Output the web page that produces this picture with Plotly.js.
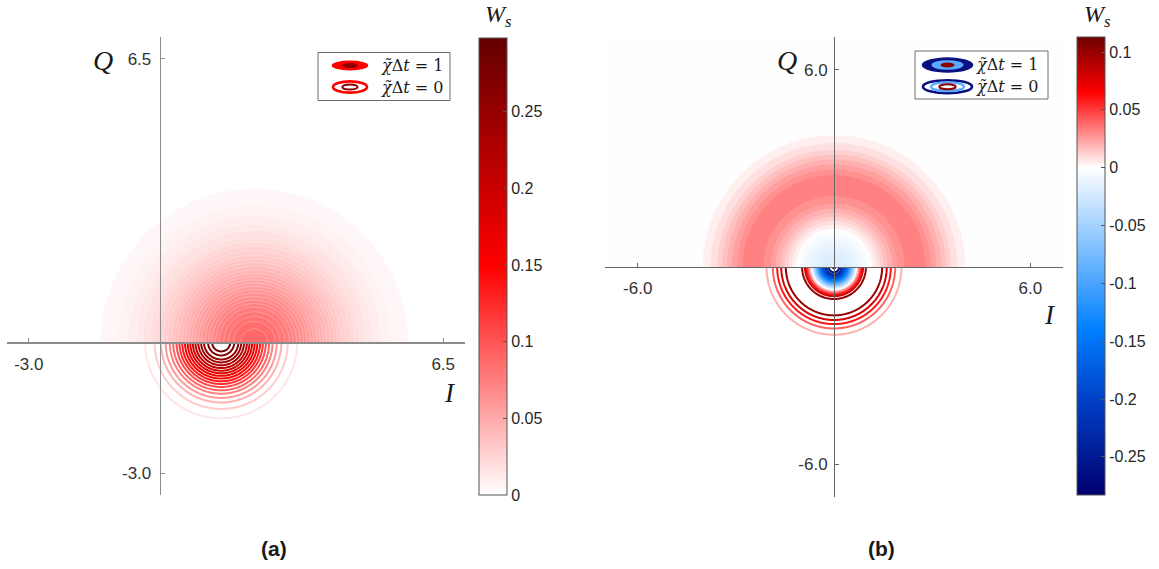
<!DOCTYPE html>
<html><head><meta charset="utf-8">
<script src="https://cdn.plot.ly/plotly-3.0.1.min.js"></script>
<style>html,body{margin:0;padding:0;background:#fff}#chart{width:1159px;height:569px}</style>
</head><body><div id="chart"></div>
<script>
// ================= DATA =================
// Panel (a) – chi*dt = 1 : filled, upper half plane, radial profile about its centre
const aFillCentre = [2.17, 0];
const aFillRadius = [0, 0.4, 0.8, 1.2, 1.6, 2.0, 2.4, 2.8, 3.2, 3.6, 4.0, 4.4, 5.0];
const aFillValue  = [0.090, 0.0861, 0.0753, 0.0603, 0.0442, 0.0296, 0.0182, 0.0102, 0.0052, 0.00246, 0.00106, 0.0004, 0];
const aFillLevels = {start: 0.003, end: 0.087, size: 0.003};
// Panel (a) – chi*dt = 0 : contour lines, lower half plane
const aLineCentre = [1.41, 0];
const aLineRadius = [0, 0.2, 0.4, 0.6, 0.8, 1.0, 1.2, 1.4, 1.6, 1.8, 2.0, 2.2, 2.6];
const aLineValue  = [0.298, 0.2863, 0.2539, 0.2079, 0.1571, 0.1096, 0.0706, 0.0420, 0.0230, 0.0117, 0.0055, 0.0024, 0.0003];
const aLineLevels = {start: 0.015, end: 0.285, size: 0.015};
// Panel (b) – chi*dt = 1 : filled, upper half plane
const bFillCentre = [0, 0];
const bFillRadius = [0, 0.4, 0.8, 1.2, 1.6, 2.0, 2.4, 2.8, 3.2, 3.6, 4.0, 4.4, 5.0];
const bFillValue  = [-0.021, -0.018, -0.009, 0.003, 0.017, 0.028, 0.033, 0.030, 0.020, 0.009, 0.002, 0.0005, 0];
const bFillLevels = {start: -0.018, end: 0.034, size: 0.004};
// Panel (b) – chi*dt = 0 : contour lines, lower half plane
const bLineCentre = [0, 0];
const bLineRadius = [0, 0.1, 0.2, 0.3, 0.4, 0.5, 0.6, 0.7, 0.8, 0.9, 1.0, 1.1, 1.2, 1.3, 1.4, 1.5, 1.6, 1.7, 1.8, 1.9, 2.0, 2.1, 2.2, 2.4, 2.6];
const bLineValue  = [-0.283, -0.275, -0.250, -0.210, -0.160, -0.105, -0.050, 0.000, 0.045, 0.085, 0.105, 0.110, 0.112, 0.112, 0.108, 0.097, 0.082, 0.066, 0.050, 0.036, 0.025, 0.017, 0.011, 0.004, 0.001];
const bLineLevels = {start: -0.28, end: 0.10, size: 0.02};

// axes / colour bars
const aRange = [-3.5, 7];
const bRange = [-7, 7];
const aTickVals = [-3.0, 6.5];
const aTickText = ['-3.0', '6.5'];
const bTickVals = [-6.0, 6.0];
const bTickText = ['-6.0', '6.0'];
const aCbar = {min: 0, max: 0.298};
const bCbar = {min: -0.283, max: 0.113};
const aCbarTicks = [0, 0.05, 0.1, 0.15, 0.2, 0.25];
const aCbarText  = ['0', '0.05', '0.1', '0.15', '0.2', '0.25'];
const bCbarTicks = [-0.25, -0.2, -0.15, -0.1, -0.05, 0, 0.05, 0.1];
const bCbarText  = ['-0.25', '-0.2', '-0.15', '-0.1', '-0.05', '0', '0.05', '0.1'];
const legendLabels = ['<i>χ̃</i>Δ<i>t</i> = 1', '<i>χ̃</i>Δ<i>t</i> = 0'];
const panelLabels = ['<b>(a)</b>', '<b>(b)</b>'];
const colourLabel = '<i>W</i><sub><i>s</i></sub>';

// ================= colour maps =================
const aStops = [[0, [255,255,255]], [0.149, [255,0,0]], [0.298, [100,0,0]]];
const bStops = [[-0.283, [0,0,110]], [-0.2, [0,65,200]], [-0.14, [0,128,255]], [0, [255,255,255]], [0.065, [255,0,0]], [0.113, [110,0,0]]];

function colourAt(stops, v) {
  if (v <= stops[0][0]) return stops[0][1];
  for (let i = 1; i < stops.length; i++) {
    if (v <= stops[i][0]) {
      const t = (v - stops[i-1][0]) / (stops[i][0] - stops[i-1][0]);
      return stops[i-1][1].map((c, k) => c + t * (stops[i][1][k] - c));
    }
  }
  return stops[stops.length-1][1];
}
const rgb = c => 'rgb(' + c.map(Math.round).join(',') + ')';
function axisScale(stops, mn, mx) {
  return stops.map(s => [(s[0]-mn)/(mx-mn), rgb(s[1])]);
}
// Plotly stretches a contour trace's colourscale over its own levels; resample the global map onto that span.
// bgValue (optional): value whose colour is used for the area below the first level.
function traceScale(stops, lev, fill, bgValue) {
  const nc = Math.round((lev.end - lev.start) / lev.size) + 1;
  const d0 = fill ? lev.start - lev.size/2 : lev.start;
  const d1 = fill ? lev.start + (nc - 0.5) * lev.size : lev.end;
  const out = [];
  const n = 80;
  for (let i = 0; i <= n; i++) {
    let v = d0 + (i/n)*(d1-d0);
    if (fill && bgValue !== undefined && v < lev.start) v = bgValue;
    out.push([i/n, rgb(colourAt(stops, v))]);
  }
  return out;
}

// ================= grids built from the radial tables =================
function interp(rs, ws, r) {
  if (r >= rs[rs.length-1]) return ws[ws.length-1];
  for (let i = 1; i < rs.length; i++) {
    if (r <= rs[i]) { const t = (r - rs[i-1]) / (rs[i] - rs[i-1]); return ws[i-1] + t * (ws[i] - ws[i-1]); }
  }
}
function seq(a, b, step) { const o = []; const n = Math.round((b-a)/step); for (let i = 0; i <= n; i++) o.push(+(a + i*step).toFixed(4)); return o; }
function field(xs, ys, c, rs, ws) {
  return ys.map(y => xs.map(x => interp(rs, ws, Math.hypot(x - c[0], y - c[1]))));
}

const axU = seq(-3.5, 7, 0.05), ayU = seq(0, 7, 0.05);
const axL = seq(-1.2, 4.0, 0.02), ayL = seq(-2.6, 0, 0.02);
const bxU = seq(-7, 7, 0.05), byU = seq(0, 7, 0.05);
const bxL = seq(-2.7, 2.7, 0.02), byL = seq(-2.7, 0, 0.02);

const traces = [
  {type:'contour', x:axU, y:ayU, z:field(axU, ayU, aFillCentre, aFillRadius, aFillValue), xaxis:'x', yaxis:'y',
   autocontour:false, contours:Object.assign({coloring:'fill'}, aFillLevels),
   colorscale:traceScale(aStops, aFillLevels, true, 0), showscale:false,
   line:{color:'rgba(255,255,255,0.45)', width:0.6, smoothing:1}, hoverinfo:'skip'},
  {type:'contour', x:axL, y:ayL, z:field(axL, ayL, aLineCentre, aLineRadius, aLineValue), xaxis:'x', yaxis:'y',
   autocontour:false, contours:Object.assign({coloring:'lines'}, aLineLevels),
   colorscale:traceScale(aStops, aLineLevels, false), showscale:false,
   line:{width:2, smoothing:1}, hoverinfo:'skip'},
  {type:'contour', x:bxU, y:byU, z:field(bxU, byU, bFillCentre, bFillRadius, bFillValue), xaxis:'x2', yaxis:'y2',
   autocontour:false, contours:Object.assign({coloring:'fill'}, bFillLevels),
   colorscale:traceScale(bStops, bFillLevels, true), showscale:false,
   line:{width:0, smoothing:1}, hoverinfo:'skip'},
  {type:'contour', x:bxL, y:byL, z:field(bxL, byL, bLineCentre, bLineRadius, bLineValue), xaxis:'x2', yaxis:'y2',
   autocontour:false, contours:Object.assign({coloring:'lines'}, bLineLevels),
   colorscale:traceScale(bStops, bLineLevels, false), showscale:false,
   line:{width:2, smoothing:1}, hoverinfo:'skip'},
  // carriers for the two colour bars (placed outside the visible ranges)
  {type:'heatmap', x:[50,51], y:[50], z:[[aCbar.min, aCbar.max]], coloraxis:'coloraxis', xaxis:'x', yaxis:'y', hoverinfo:'skip'},
  {type:'heatmap', x:[50,51], y:[50], z:[[bCbar.min, bCbar.max]], coloraxis:'coloraxis2', xaxis:'x2', yaxis:'y2', hoverinfo:'skip'}
];

// ================= layout =================
const W = 1159, H = 569;
const px = x => x / W, py = y => 1 - y / H;
const tickFont = {family:'Liberation Sans, Arial, sans-serif', size:17, color:'#333'};
const cbFont = {family:'Liberation Sans, Arial, sans-serif', size:16, color:'#262626'};

const aDomX = [px(7), px(465)], aDomY = [py(495), py(37)];
const bDomX = [px(605), px(1063)], bDomY = [py(497), py(37)];
const frac = (r, v) => (v - r[0]) / (r[1] - r[0]);
const posOf = (dom, r) => dom[0] + frac(r, 0) * (dom[1] - dom[0]);

function axis(dom, range, tv, tt, pos, lc, lw, standoff) {
  return {domain:dom, range:range, anchor:'free', position:pos, showline:true, linecolor:lc, linewidth:lw,
    zeroline:false, showgrid:false, ticks:'inside', ticklen:4, tickwidth:1, tickcolor:lc,
    tickvals:tv, ticktext:tt, tickfont:tickFont, ticklabelstandoff:standoff, fixedrange:true};
}

function cbar(x0, y0, y1, tv, tt) {
  return {x:px(x0), xanchor:'left', xref:'paper', y:py((y0+y1)/2), yanchor:'middle', yref:'paper',
    len:(y1-y0)/H, lenmode:'fraction', thickness:28, thicknessmode:'pixels', xpad:0, ypad:0,
    outlinewidth:1, outlinecolor:'#555', ticks:'inside', ticklen:4, tickcolor:'#555',
    tickvals:tv, ticktext:tt, tickfont:cbFont};
}

const shapes = [];
const ell = (cx, cy, rx, ry, fill, lc, lw) => shapes.push({type:'circle', xref:'paper', yref:'paper',
  x0:px(cx-rx), x1:px(cx+rx), y0:py(cy+ry), y1:py(cy-ry), fillcolor:fill, line:{color:lc, width:lw}, layer:'above'});
const box = (x0, y0, x1, y1) => shapes.push({type:'rect', xref:'paper', yref:'paper', x0:px(x0), x1:px(x1), y0:py(y1), y1:py(y0),
  fillcolor:'#fff', line:{color:'#6e6e6e', width:1}, layer:'above'});

// legend (a)
box(318, 52.5, 450, 100.5);
ell(350, 65.5, 18.3, 4.9, '#ff0000', 'rgba(0,0,0,0)', 0);
ell(350, 65.5, 7.8, 2.6, '#8b0000', 'rgba(0,0,0,0)', 0);
ell(350, 87, 17, 5.6, 'rgba(0,0,0,0)', '#ff0000', 2.6);
ell(350, 87, 7.6, 2.6, 'rgba(0,0,0,0)', '#8b0000', 2);
// legend (b)
box(915, 51, 1048, 99);
ell(947.5, 65, 25.8, 7.7, '#0a1080', 'rgba(0,0,0,0)', 0);
ell(947.5, 65, 16, 4.8, '#5aaaff', 'rgba(0,0,0,0)', 0);
ell(947.5, 65, 7, 2.4, '#8b0000', 'rgba(0,0,0,0)', 0);
ell(947.5, 86.7, 24.5, 6.5, 'rgba(0,0,0,0)', '#0a1080', 2.6);
ell(947.5, 86.7, 16.5, 4.3, 'rgba(0,0,0,0)', '#5aaaff', 2.4);
ell(947.5, 86.7, 8.2, 2.5, 'rgba(0,0,0,0)', '#8b0000', 2);

const serif = 'Liberation Serif, Times New Roman, serif';
const legSerif = 'DejaVu Serif, serif';
const ann = (x, y, text, size, family, xanchor) => ({xref:'paper', yref:'paper', x:px(x), y:py(y), text:text, showarrow:false,
  xanchor:xanchor || 'center', yanchor:'middle', font:{family:family || serif, size:size, color:'#1a1a1a'}});

const annotations = [
  ann(103, 60, '<i>Q</i>', 28), ann(450, 393, '<i>I</i>', 27),
  ann(787, 60, '<i>Q</i>', 28), ann(1050, 315, '<i>I</i>', 27),
  ann(379, 65.5, legendLabels[0], 16, legSerif, 'left'), ann(379, 87, legendLabels[1], 16, legSerif, 'left'),
  ann(974, 65, legendLabels[0], 16, legSerif, 'left'), ann(974, 86.7, legendLabels[1], 16, legSerif, 'left'),
  ann(498, 16, colourLabel, 24), ann(1097, 16, colourLabel, 24),
  ann(274, 548, panelLabels[0], 21, 'Liberation Sans, Arial, sans-serif'),
  ann(881, 548, panelLabels[1], 21, 'Liberation Sans, Arial, sans-serif')
];

const layout = {
  width:W, height:H, margin:{l:0, r:0, t:0, b:0, pad:0},
  paper_bgcolor:'#fff', plot_bgcolor:'rgba(0,0,0,0)', showlegend:false,
  xaxis: axis(aDomX, aRange, aTickVals, aTickText, posOf(aDomY, aRange), '#8c8c8c', 1.7, 6),
  yaxis: axis(aDomY, aRange, aTickVals, aTickText, posOf(aDomX, aRange), '#8c8c8c', 1.7, 5),
  xaxis2: axis(bDomX, bRange, bTickVals, bTickText, posOf(bDomY, bRange), '#666', 1.1, 5),
  yaxis2: axis(bDomY, bRange, bTickVals, bTickText, posOf(bDomX, bRange), '#666', 1.1, 3),
  coloraxis: {cmin:aCbar.min, cmax:aCbar.max, colorscale:axisScale(aStops, aCbar.min, aCbar.max),
              colorbar:cbar(479, 38, 495, aCbarTicks, aCbarText)},
  coloraxis2: {cmin:bCbar.min, cmax:bCbar.max, colorscale:axisScale(bStops, bCbar.min, bCbar.max),
               colorbar:cbar(1077, 37, 495, bCbarTicks, bCbarText)},
  shapes: shapes, annotations: annotations
};

Plotly.newPlot('chart', traces, layout, {staticPlot:true, displayModeBar:false});
</script></body></html>
